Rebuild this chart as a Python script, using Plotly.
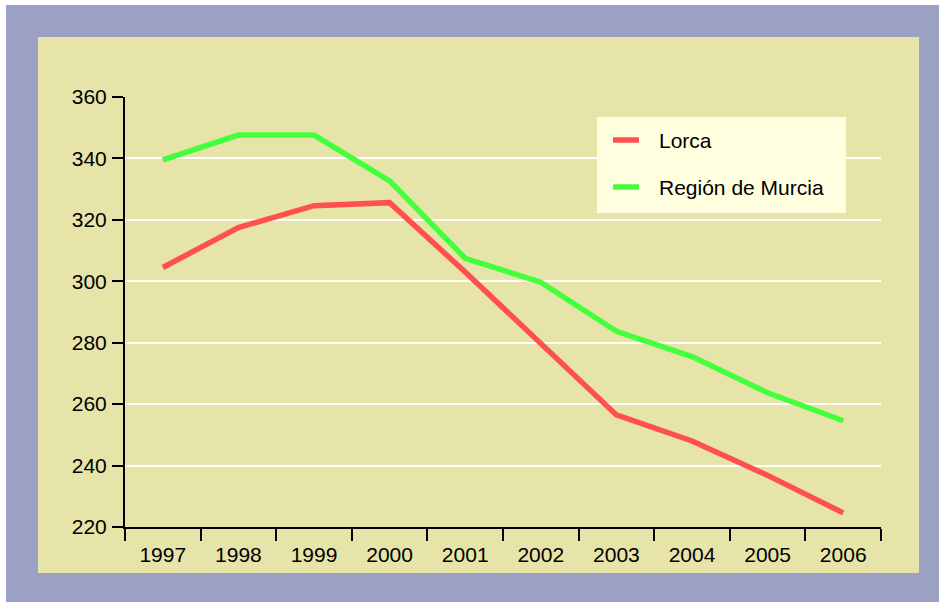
import plotly.graph_objects as go

years = ["1997", "1998", "1999", "2000", "2001", "2002", "2003", "2004", "2005", "2006"]
lorca = [304.5, 317.5, 324.6, 325.6, 303.0, 279.6, 256.5, 248.0, 236.8, 224.6]
murcia = [339.5, 347.6, 347.6, 332.7, 307.5, 299.7, 283.7, 275.5, 263.7, 254.6]
series_names = ["Lorca", "Región de Murcia"]
y_ticks = [220, 240, 260, 280, 300, 320, 340, 360]

RED = "#FF5050"
GREEN = "#44FF3C"
KHAKI = "#E6E4A8"
PERI = "#9CA1C4"
LEGBG = "#FFFFE0"
FONT = "Liberation Sans, Arial"

W, H = 939, 602
L, R, T, B = 125, 881, 97, 527  # plot area pixel bounds
pw, ph = R - L, B - T

def px(x):
    return (x - L) / pw

def py(y):
    return (B - y) / ph

fig = go.Figure()
fig.add_trace(go.Scatter(x=years, y=lorca, mode="lines", name=series_names[0],
                         line=dict(color=RED, width=5.5), showlegend=False))
fig.add_trace(go.Scatter(x=years, y=murcia, mode="lines", name=series_names[1],
                         line=dict(color=GREEN, width=5.5), showlegend=False))

shapes = [
    dict(type="rect", xref="paper", yref="paper", x0=px(6), x1=px(945), y0=py(610), y1=py(5),
         fillcolor=PERI, line=dict(width=0), layer="below"),
    dict(type="rect", xref="paper", yref="paper", x0=px(38), x1=px(919), y0=py(573), y1=py(37),
         fillcolor=KHAKI, line=dict(width=0), layer="below"),
    dict(type="rect", xref="paper", yref="paper", x0=px(597), x1=px(846), y0=py(213), y1=py(117),
         fillcolor=LEGBG, line=dict(width=0), layer="above"),
    dict(type="line", xref="paper", yref="paper", x0=px(613), x1=px(639), y0=py(140), y1=py(140),
         line=dict(color=RED, width=5.5), layer="above"),
    dict(type="line", xref="paper", yref="paper", x0=px(613), x1=px(639), y0=py(187), y1=py(187),
         line=dict(color=GREEN, width=5.5), layer="above"),
]
annotations = [
    dict(xref="paper", yref="paper", x=px(657), y=py(140), text=series_names[0], showarrow=False,
         xanchor="left", yanchor="middle", font=dict(size=21, color="black", family=FONT)),
    dict(xref="paper", yref="paper", x=px(657), y=py(187), text=series_names[1], showarrow=False,
         xanchor="left", yanchor="middle", font=dict(size=21, color="black", family=FONT)),
]

fig.update_layout(
    width=W, height=H,
    margin=dict(l=L, r=W - R, t=T, b=H - B, pad=0),
    paper_bgcolor="white",
    plot_bgcolor=KHAKI,
    font=dict(family=FONT, size=21, color="black"),
    shapes=shapes,
    annotations=annotations,
    showlegend=False,
    xaxis=dict(type="category", range=[-0.5, 9.5], tickson="boundaries", ticks="outside",
               ticklen=12, tickwidth=2, tickcolor="black", showline=True, linecolor="black",
               linewidth=2, showgrid=False, zeroline=False, tickfont=dict(size=21),
               ticklabelstandoff=8, fixedrange=True),
    yaxis=dict(range=[220, 360], tickvals=y_ticks, ticks="outside", ticklen=11, tickwidth=2,
               tickcolor="black", showline=True, linecolor="black", linewidth=2,
               showgrid=True, gridcolor="white", gridwidth=2, zeroline=False,
               tickfont=dict(size=21), ticklabelstandoff=1, fixedrange=True),
)

fig.write_html("out.html", config={"displayModeBar": False},
               post_script="document.body.style.margin='0';document.body.style.overflow='hidden';")
